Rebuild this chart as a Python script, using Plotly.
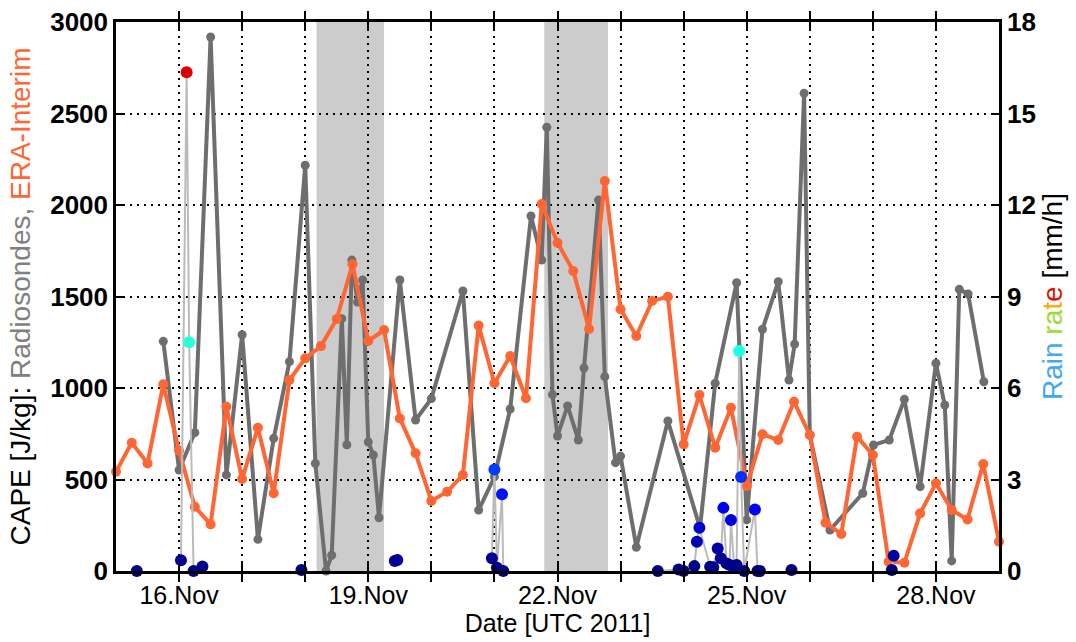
import numpy as np
import pandas as pd
import plotly.graph_objects as go

# ---------------- data (day of November 2011, fractional) ----------------
sonde_day = [15.75, 16.00, 16.25, 16.50, 16.75, 17.00, 17.25, 17.50, 17.75, 18.00,
             18.16, 18.33, 18.42, 18.58, 18.66, 18.74, 18.83, 18.91, 19.00, 19.08,
             19.17, 19.50, 19.75, 20.00, 20.50, 20.75, 21.00, 21.25, 21.58, 21.75,
             21.83, 21.92, 22.00, 22.16, 22.33, 22.42, 22.65, 22.75, 22.92, 23.00,
             23.25, 23.75, 24.26, 24.50, 24.84, 25.00, 25.25, 25.50, 25.67, 25.76,
             25.91, 26.00, 26.32, 26.84, 27.01, 27.26, 27.50, 27.75, 28.00, 28.14,
             28.25, 28.37, 28.51, 28.76]
sonde_cape = [1255, 552, 756, 2918, 525, 1291, 173, 725, 1144, 2217,
              588, 0, 86, 1379, 690, 1699, 1470, 1590, 705, 634,
              291, 1590, 825, 942, 1530, 333, 515, 885, 1940, 1699,
              2425, 964, 738, 902, 716, 1109, 2027, 1062, 592, 628,
              130, 820, 235, 1026, 1575, 279, 1321, 1581, 1044, 1240,
              2610, 743, 224, 425, 688, 716, 938, 461, 1135, 907,
              55, 1539, 1514, 1034]

era_day = [15.00, 15.25, 15.50, 15.75, 16.00, 16.25, 16.50, 16.75, 17.00, 17.25,
           17.50, 17.75, 18.00, 18.25, 18.50, 18.75, 19.00, 19.25, 19.50, 19.75,
           20.00, 20.25, 20.50, 20.75, 21.00, 21.25, 21.50, 21.75, 22.00, 22.25,
           22.50, 22.75, 23.00, 23.25, 23.50, 23.75, 24.00, 24.25, 24.50, 24.75,
           25.00, 25.25, 25.50, 25.75, 26.00, 26.25, 26.50, 26.75, 27.00, 27.25,
           27.50, 27.75, 28.00, 28.25, 28.50, 28.75, 29.00]
era_cape = [543, 701, 588, 1020, 657, 351, 255, 898, 503, 783,
            425, 1044, 1162, 1229, 1377, 1676, 1257, 1317, 834, 643,
            383, 433, 525, 1341, 1026, 1175, 944, 2005, 1794, 1639,
            1322, 2131, 1430, 1284, 1475, 1499, 692, 962, 674, 892,
            464, 747, 716, 925, 743, 264, 202, 734, 634, 51,
            45, 315, 479, 333, 282, 585, 160]

rain_day = [15.33, 16.03, 16.12, 16.16, 16.23, 16.37, 17.94, 19.42, 19.46,
            20.96, 21.00, 21.04, 21.12, 21.14, 23.59, 23.92, 24.00, 24.17, 24.21,
            24.25, 24.42, 24.47, 24.54, 24.59, 24.63, 24.68, 24.73, 24.75, 24.80,
            24.84, 24.88, 24.91, 24.96, 25.13, 25.17, 25.21, 25.71, 27.30, 27.33]
rain_rate = [0.0, 0.35, 16.35, 7.5, 0.0, 0.15, 0.03, 0.33, 0.36,
             0.42, 3.33, 0.11, 2.52, 0.0, 0.0, 0.05, 0.0, 0.16, 0.96,
             1.42, 0.14, 0.12, 0.74, 0.42, 2.07, 0.25, 0.2, 1.67, 0.16,
             0.2, 7.21, 3.08, 0.0, 2.02, 0.0, 0.0, 0.03, 0.03, 0.5]

iop_start = [18.18, 21.79]
iop_end = [19.25, 22.80]

tick_days = list(range(15, 30))
label_days = [16, 19, 22, 25, 28]

# ---------------- helpers ----------------
base = pd.Timestamp("2011-11-01")


def to_time(days):
    return base + pd.to_timedelta(np.asarray(days, dtype=float) - 1.0, unit="D")


# break the thin rain line between separate rain events
rd = np.asarray(rain_day, dtype=float)
rr = np.asarray(rain_rate, dtype=float)
line_x, line_y = [], []
for i in range(len(rd)):
    if i > 0 and rd[i] - rd[i - 1] > 0.45:
        line_x.append(None)
        line_y.append(None)
    line_x.append(to_time([rd[i]])[0])
    line_y.append(rr[i])

jet = [[0.0, "rgb(0,0,128)"], [0.125, "rgb(0,0,255)"], [0.375, "rgb(0,255,255)"],
       [0.625, "rgb(255,255,0)"], [0.875, "rgb(255,0,0)"], [1.0, "rgb(128,0,0)"]]

GRAY = "#6e6e6e"
ORANGE = "#ff6633"
FONT = "Liberation Sans, Arial, sans-serif"

fig = go.Figure()

fig.add_trace(go.Scatter(
    x=to_time(sonde_day), y=sonde_cape, mode="lines+markers",
    line=dict(color=GRAY, width=4), marker=dict(color=GRAY, size=9),
    cliponaxis=False, showlegend=False))

fig.add_trace(go.Scatter(
    x=to_time(era_day), y=era_cape, mode="lines+markers",
    line=dict(color=ORANGE, width=4), marker=dict(color=ORANGE, size=10),
    cliponaxis=False, showlegend=False))

fig.add_trace(go.Scatter(
    x=line_x, y=line_y, yaxis="y2", mode="lines",
    line=dict(color="#bbbbbb", width=2), connectgaps=False,
    cliponaxis=False, showlegend=False, hoverinfo="skip"))

fig.add_trace(go.Scatter(
    x=to_time(rain_day), y=rain_rate, yaxis="y2", mode="markers",
    marker=dict(color=rain_rate, colorscale=jet, cmin=0, cmax=18, size=12,
                line=dict(width=0)),
    cliponaxis=False, showlegend=False))

for s, e in zip(iop_start, iop_end):
    fig.add_shape(type="rect", xref="x", yref="paper",
                  x0=to_time([s])[0], x1=to_time([e])[0], y0=0, y1=1,
                  fillcolor="#cccccc", line=dict(width=0), layer="below")

tickvals = to_time(tick_days)
ticktext = [f"{d}.Nov" if d in label_days else "" for d in tick_days]

left_title = ("CAPE [J/kg]: <span style='color:#808080'>Radiosondes,</span> "
              "<span style='color:#ff6633'>ERA-Interim</span>")
right_title = ("<span style='color:#3fa9f5'>Rain</span> "
               "<span style='color:#99dd33'>ra</span><span style='color:#ffaa00'>t</span>"
               "<span style='color:#dd1100'>e</span> [mm/h]")

fig.update_layout(
    width=1076, height=642,
    margin=dict(l=116, r=77, t=22, b=71, autoexpand=False),
    paper_bgcolor="white", plot_bgcolor="white",
    font=dict(family=FONT, color="black"),
    xaxis=dict(
        range=[to_time([15.0])[0], to_time([29.0])[0]],
        tickmode="array", tickvals=tickvals, ticktext=ticktext,
        ticks="inside", ticklen=8, tickwidth=2, tickcolor="black",
        showline=True, linecolor="black", linewidth=2.5, mirror="allticks",
        showgrid=True, gridcolor="black", gridwidth=1.5, griddash="2px,5px",
        tickfont=dict(size=25),
        title=dict(text="Date [UTC 2011]", standoff=2, font=dict(size=25)),
        zeroline=False, automargin=False,
    ),
    yaxis=dict(
        range=[0, 3000], tickmode="linear", tick0=0, dtick=500,
        ticks="inside", ticklen=8, tickwidth=2, tickcolor="black",
        showline=True, linecolor="black", linewidth=2.5, mirror=True,
        showgrid=True, gridcolor="black", gridwidth=1.5, griddash="2px,5px",
        tickfont=dict(size=26, weight="bold"),
        title=dict(text=left_title, standoff=12, font=dict(size=28)),
        zeroline=False, automargin=False,
    ),
    yaxis2=dict(
        range=[0, 18], tickmode="linear", tick0=0, dtick=3,
        overlaying="y", side="right",
        ticks="inside", ticklen=8, tickwidth=2, tickcolor="black",
        showline=True, linecolor="black", linewidth=2.5,
        showgrid=False, zeroline=False, automargin=False,
        tickfont=dict(size=26, weight="bold"),
        title=dict(text=right_title, standoff=8, font=dict(size=28)),
    ),
)

fig.write_html("out.html",
               config={"displayModeBar": False},
               post_script="document.body.style.margin='0px';")
